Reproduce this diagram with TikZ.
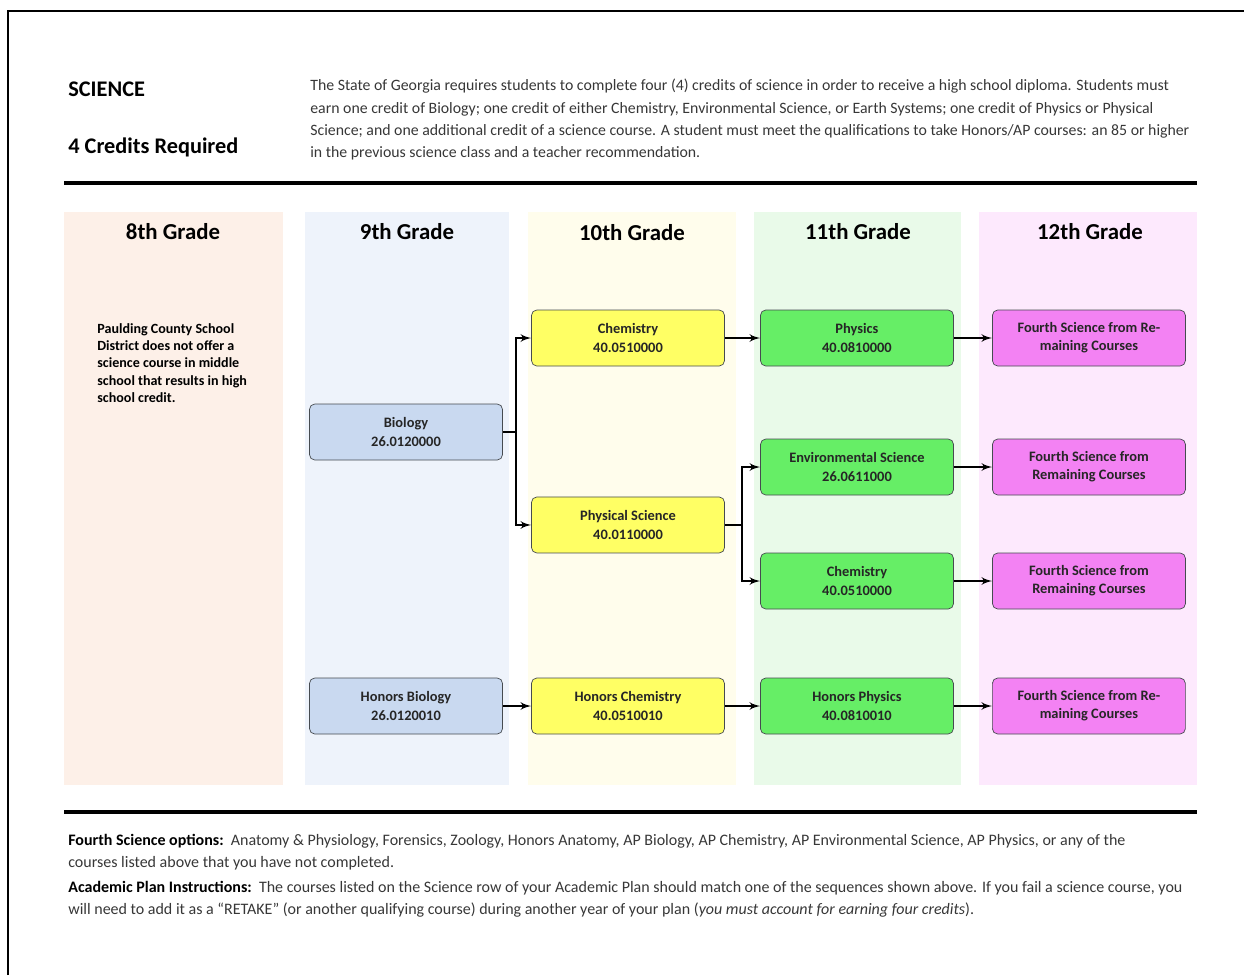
\documentclass[tikz,border=0pt]{standalone}
\usepackage{fontspec}
\setmainfont{Carlito}
\usetikzlibrary{arrows,calc,positioning}
\definecolor{colA}{RGB}{253,240,232}
\definecolor{colB}{RGB}{238,243,251}
\definecolor{colC}{RGB}{255,253,236}
\definecolor{colD}{RGB}{233,250,233}
\definecolor{colE}{RGB}{253,233,253}
\definecolor{biofill}{RGB}{201,217,240}
\definecolor{chemfill}{RGB}{255,255,100}
\definecolor{physfill}{RGB}{102,238,102}
\definecolor{fourfill}{RGB}{243,130,243}
\definecolor{boxline}{RGB}{70,75,80}
\definecolor{bodytext}{RGB}{55,55,55}
\tikzset{%
	course/.style   = {draw=boxline, rectangle, rounded corners=3pt, minimum width=3.86cm, minimum height=1.12cm, align=center, inner sep=1pt, font=\fontsize{8.2}{10.3}\selectfont\bfseries, text=black!85},
	bio/.style      = {course, fill=biofill},
	chem/.style     = {course, fill=chemfill},
	phys/.style     = {course, fill=physfill},
	fourth/.style   = {course, fill=fourfill},
	grade/.style    = {font=\fontsize{13}{15}\selectfont\bfseries},
	para/.style     = {anchor=north west, inner sep=0pt, align=left, text=bodytext, font=\fontsize{9}{12.7}\selectfont},
	waypoint/.style = {coordinate},
	arrow/.style    = {line width=1.1pt, -latex'},
	rule/.style     = {line width=1.8pt},
}

\begin{document}
\begin{tikzpicture}[x=0.02cm,y=-0.02cm,node distance=4.58cm,>=latex']
	\useasboundingbox (0,0) rectangle (1244,975);
	% page frame
	\draw[line width=0.9pt] (8,975) -- (8,11) -- (1244,11);
	
	% heading
	\node [anchor=west,inner sep=0pt,font=\fontsize{12.7}{15}\selectfont\bfseries] (subj) at (68,89) {SCIENCE};
	\node [anchor=west,inner sep=0pt,font=\fontsize{12.7}{15}\selectfont\bfseries] (cred) at (68,147) {4 Credits Required};
	\node [para] (intro) at (310,79) {The State of Georgia requires students to complete four (4) credits of science in order to receive a high school diploma. Students must\\
		earn one credit of Biology; one credit of either Chemistry, Environmental Science, or Earth Systems; one credit of Physics or Physical\\
		Science; and one additional credit of a science course. A student must meet the qualifications to take Honors/AP courses: an 85 or higher\\
		in the previous science class and a teacher recommendation.};
	\draw[rule] (64,183) -- (1197,183);
	
	% grade columns
	\fill[colA] (64,212) rectangle (283,785);
	\fill[colB] (305,212) rectangle (509,785);
	\fill[colC] (528,212) rectangle (736,785);
	\fill[colD] (754,212) rectangle (961,785);
	\fill[colE] (979,212) rectangle (1197,785);
	\node [grade] (g8) at (173,232) {8th Grade};
	\node [grade] (g9) at (407,232) {9th Grade};
	\node [grade] (g10) at (632,233) {10th Grade};
	\node [grade] (g11) at (858,232) {11th Grade};
	\node [grade] (g12) at (1090,232) {12th Grade};
	
	\node [anchor=north west,inner sep=0pt,align=left,font=\fontsize{8}{9.85}\selectfont\bfseries] (note) at (97,323) {Paulding County School\\District does not offer a\\science course in middle\\school that results in high\\school credit.};
	
	% courses
	\node [bio] (bio) at (406,432) {Biology\\26.0120000};
	\node [chem] (chema) at (628,338) {Chemistry\\40.0510000};
	\node [chem] (psci) [below of=chema,node distance=3.74cm] {Physical Science\\40.0110000};
	\node [phys] (phys) [right of=chema] {Physics\\40.0810000};
	\node [phys] (env) at (857,467) {Environmental Science\\26.0611000};
	\node [phys] (chemb) at (857,581) {Chemistry\\40.0510000};
	\node [fourth] (fa) [right of=phys,node distance=4.64cm] {Fourth Science from Re-\\maining Courses};
	\node [fourth] (fb) [right of=env,node distance=4.64cm] {Fourth Science from\\Remaining Courses};
	\node [fourth] (fc) [right of=chemb,node distance=4.64cm] {Fourth Science from\\Remaining Courses};
	
	\node [bio] (hbio) at (406,706) {Honors Biology\\26.0120010};
	\node [chem] (hchem) [right of=hbio,node distance=4.44cm] {Honors Chemistry\\40.0510010};
	\node [phys] (hphys) [right of=hchem] {Honors Physics\\40.0810010};
	\node [fourth] (fd) [right of=hphys,node distance=4.64cm] {Fourth Science from Re-\\maining Courses};
	
	\node [waypoint] (bsplit) [right of=bio,node distance=2.2cm] {};
	\node [waypoint] (psplit) [right of=psci,node distance=2.28cm] {};
	
	\draw[line width=1.1pt] (bio) -- (bsplit);
	\draw[arrow] (bsplit) |- (chema);
	\draw[arrow] (bsplit) |- (psci);
	\draw[arrow] (chema) -- (phys);
	\draw[line width=1.1pt] (psci) -- (psplit);
	\draw[arrow] (psplit) |- (env);
	\draw[arrow] (psplit) |- (chemb);
	\draw[arrow] (phys) -- (fa);
	\draw[arrow] (env) -- (fb);
	\draw[arrow] (chemb) -- (fc);
	\draw[arrow] (hbio) -- (hchem);
	\draw[arrow] (hchem) -- (hphys);
	\draw[arrow] (hphys) -- (fd);
	
	% footer
	\draw[rule] (64,812) -- (1197,812);
	\node [para,font=\fontsize{9.1}{12.6}\selectfont] (opts) at (68,834) {\textbf{\color{black}Fourth Science options:}\ \ Anatomy \& Physiology, Forensics, Zoology, Honors Anatomy, AP Biology, AP Chemistry, AP Environmental Science, AP Physics, or any of the\\
		courses listed above that you have not completed.};
	\node [para,font=\fontsize{9.1}{12.6}\selectfont] (plan) at (68,881) {\textbf{\color{black}Academic Plan Instructions:}\ \ The courses listed on the Science row of your Academic Plan should match one of the sequences shown above. If you fail a science course, you\\
		will need to add it as a “RETAKE” (or another qualifying course) during another year of your plan (\textit{you must account for earning four credits}).};
\end{tikzpicture}
\end{document}
